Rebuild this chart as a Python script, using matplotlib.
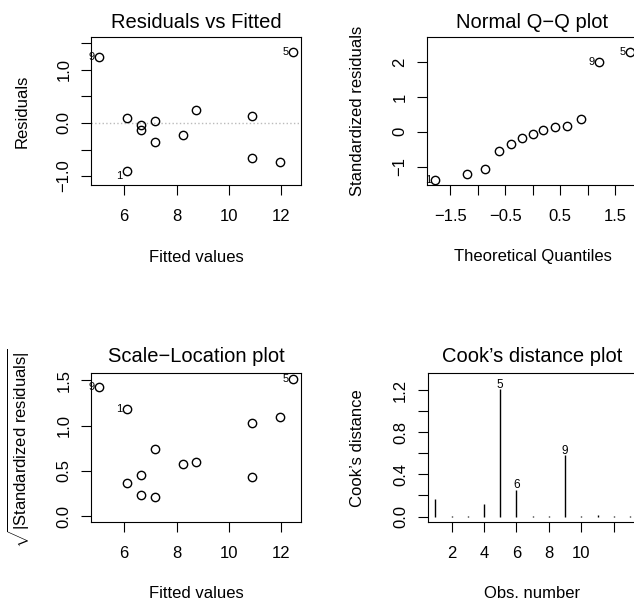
import numpy as np
import matplotlib
matplotlib.use('Agg')
import matplotlib.pyplot as plt

plt.rcParams['font.family'] = ['Liberation Sans', 'DejaVu Sans']
plt.rcParams['mathtext.fontset'] = 'custom'
plt.rcParams['mathtext.rm'] = 'Liberation Sans'
plt.rcParams['mathtext.it'] = 'Liberation Sans:italic'

M = '\u2212'

# residuals vs fitted
fitted = [5.04, 12.46, 6.10, 6.10, 6.65, 6.65, 7.16, 7.16, 8.23, 8.76, 10.89, 10.89, 11.96]
resid = [1.25, 1.33, 0.094, -0.906, -0.03, -0.13, 0.044, -0.365, -0.22, 0.25, 0.126, -0.667, -0.73]
resid_labels = {0: '9', 1: '5', 3: '1'}

# normal Q-Q
theo_q = [-1.77, -1.20, -0.87, -0.62, -0.40, -0.19, 0.0, 0.19, 0.40, 0.62, 0.87, 1.20, 1.77]
std_res = [-1.40, -1.22, -1.06, -0.56, -0.35, -0.19, -0.07, 0.05, 0.13, 0.18, 0.36, 2.00, 2.29]
qq_labels = {0: '1', 11: '9', 12: '5'}

# scale-location
sl_fitted = [5.04, 6.10, 12.46, 10.89, 11.96, 7.16, 8.23, 8.76, 6.10, 6.65, 10.89, 6.65, 7.16]
sl_sqrt = [1.423, 1.18, 1.515, 1.026, 1.10, 0.739, 0.574, 0.60, 0.371, 0.452, 0.437, 0.235, 0.217]
sl_labels = {0: '9', 1: '1', 2: '5'}

# cook's distance
obs = list(range(1, 14))
cooks = [0.165, 0.006, 0.004, 0.114, 1.21, 0.256, 0.005, 0.006, 0.582, 0.004, 0.015, 0.004, 0.005]
cook_labels = {4: '5', 5: '6', 8: '9'}

W, H = 634, 608
fig = plt.figure(figsize=(W / 100, H / 100), dpi=100)


def add_ax(left, top, w=210, h=148.6):
    return fig.add_axes([left / W, 1 - (top + h) / H, w / W, h / H])


def style(ax, xt, xl, yt, yl):
    ax.set_xticks(xt, xl)
    ax.set_yticks(yt, yl)
    ax.tick_params(direction='out', length=7.2, width=0.8, labelsize=12)
    ax.tick_params(axis='x', pad=10)
    ax.tick_params(axis='y', pad=7)
    for t in ax.get_yticklabels():
        t.set_rotation(90)
        t.set_va('center')
    for s in ax.spines.values():
        s.set_linewidth(0.8)


def ftext(x, y, s, size, rot=0):
    fig.text(x / W, 1 - y / H, s, fontsize=size, rotation=rot, ha='center', va='center')


def label_pts(ax, xs, ys, labs, dy=None):
    for i, s in labs.items():
        off = (-3.2, 0) if dy is None else (-3.2, dy.get(i, 0))
        ax.annotate(s, (xs[i], ys[i]), xytext=off, textcoords='offset points',
                    ha='right', va='center', fontsize=8)


mk = dict(marker='o', ls='none', mfc='none', mec='black', ms=6, mew=1)

# panel 1
ax1 = add_ax(91.3, 36.7)
ax1.axhline(0, color='#bbbbbb', ls=':', lw=1)
ax1.plot(fitted, resid, **mk)
ax1.set_xlim(4.742, 12.763)
ax1.set_ylim(-1.173, 1.624)
style(ax1, [6, 8, 10, 12], ['6', '8', '10', '12'],
      [-1.0, -0.5, 0.0, 0.5, 1.0, 1.5], [M + '1.0', '', '0.0', '', '1.0', ''])
label_pts(ax1, fitted, resid, resid_labels, dy={3: -3.5})
ftext(196.5, 22, 'Residuals vs Fitted', 14.5)
ftext(196.5, 257, 'Fitted values', 12)
ftext(21.7, 111, 'Residuals', 12, 90)

# panel 2
ax2 = add_ax(427.3, 36.7)
ax2.plot(theo_q, std_res, **mk)
ax2.set_xlim(-1.918, 1.90)
ax2.set_ylim(-1.54, 2.74)
style(ax2, [-1.5, -1.0, -0.5, 0.0, 0.5, 1.0, 1.5],
      [M + '1.5', '', M + '0.5', '', '0.5', '', '1.5'],
      [-1, 0, 1, 2], [M + '1', '0', '1', '2'])
label_pts(ax2, theo_q, std_res, qq_labels)
ftext(532.5, 22, 'Normal Q' + M + 'Q plot', 14.5)
ftext(532.5, 257, 'Theoretical Quantiles', 12)
ftext(357, 111, 'Standardized residuals', 12, 90)

# panel 3
ax3 = add_ax(91.3, 373.3)
ax3.plot(sl_fitted, sl_sqrt, **mk)
ax3.set_xlim(4.742, 12.763)
ax3.set_ylim(-0.063, 1.577)
style(ax3, [6, 8, 10, 12], ['6', '8', '10', '12'],
      [0.0, 0.5, 1.0, 1.5], ['0.0', '0.5', '1.0', '1.5'])
label_pts(ax3, sl_fitted, sl_sqrt, sl_labels)
ftext(196.5, 357, 'Scale' + M + 'Location plot', 14.5)
ftext(196.5, 594, 'Fitted values', 12)
ftext(19, 448, r'$\sqrt{|\mathrm{Standardized\ residuals}|}$', 12, 90)

# panel 4
ax4 = add_ax(427.7, 373.3)
ax4.vlines(obs, 0, cooks, color='black', lw=1)
ax4.set_xlim(0.52, 13.48)
ax4.set_ylim(-0.051, 1.358)
style(ax4, [2, 4, 6, 8, 10, 12], ['2', '4', '6', '8', '10', ''],
      [0.0, 0.2, 0.4, 0.6, 0.8, 1.0, 1.2], ['0.0', '', '0.4', '', '0.8', '', '1.2'])
for i, s in cook_labels.items():
    ax4.annotate(s, (obs[i], cooks[i]), xytext=(0, 3), textcoords='offset points',
                 ha='center', va='center', fontsize=8.5)
ftext(532.5, 357, 'Cook\u2019s distance plot', 14.5)
ftext(532.5, 594, 'Obs. number', 12)
ftext(357, 448, 'Cook\u2019s distance', 12, 90)

fig.savefig('out.png', dpi=100)
